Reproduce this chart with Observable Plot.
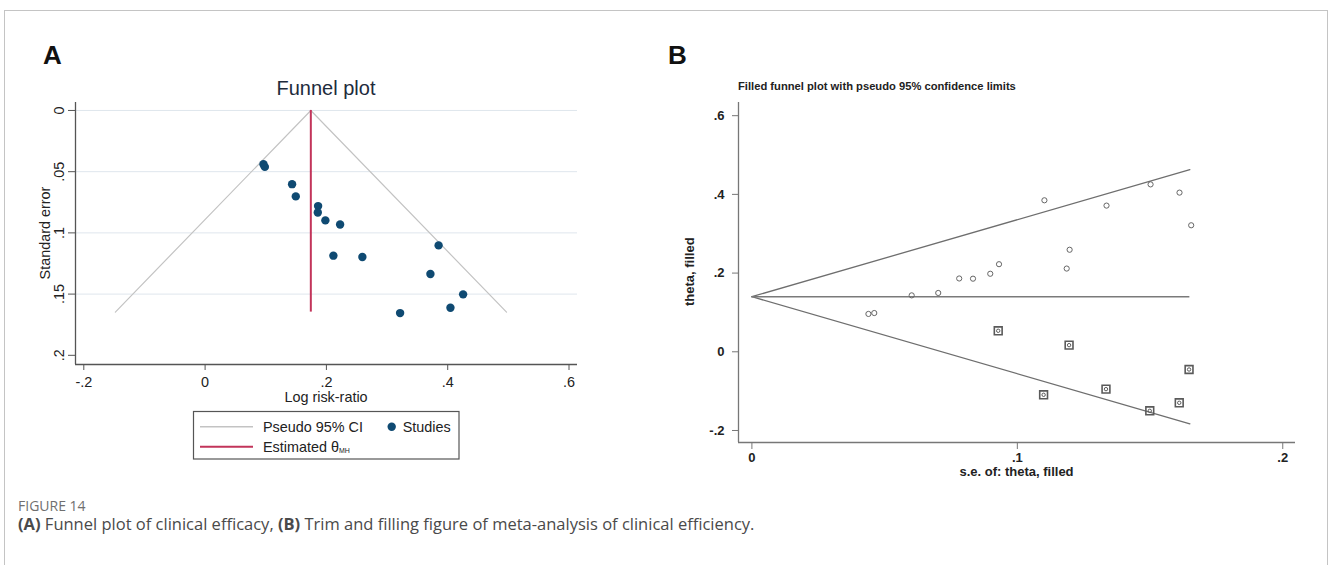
<!DOCTYPE html>
<html>
<head>
<meta charset="utf-8">
<script src="https://cdn.jsdelivr.net/npm/d3@7"></script>
<script src="https://cdn.jsdelivr.net/npm/@observablehq/plot@0.6"></script>
<style>
html, body { margin: 0; padding: 0; background: #fff; }
body { width: 1328px; height: 565px; position: relative; overflow: hidden; font-family: "Liberation Sans", Arial, sans-serif; }
.abs { position: absolute; }
#frame { left: 4px; top: 10px; width: 1324px; height: 600px; border: 1px solid #c4c4c4; border-bottom: none; box-sizing: border-box; }
#panelA { left: 20px; top: 70px; }
#panelB { left: 640px; top: 70px; }
#overlay { left: 0; top: 0; pointer-events: none; }
</style>
</head>
<body>
<div id="frame" class="abs"></div>
<div id="panelA" class="abs"></div>
<div id="panelB" class="abs"></div>
<svg id="overlay" class="abs" width="1328" height="565" xmlns="http://www.w3.org/2000/svg">
  <g font-family="Liberation Sans, Arial, sans-serif">
    <text x="43" y="64" font-size="26" font-weight="bold" fill="#111">A</text>
    <text x="668" y="63.5" font-size="26" font-weight="bold" fill="#111">B</text>
    <text x="326" y="95" font-size="20" text-anchor="middle" fill="#1e2b3c">Funnel plot</text>
    <text transform="translate(50,233) rotate(-90)" font-size="14.4" text-anchor="middle" fill="#222">Standard error</text>
    <text x="326" y="401.5" font-size="14.4" text-anchor="middle" fill="#222">Log risk-ratio</text>
    <text x="738" y="90" font-size="11.2" font-weight="bold" fill="#222">Filled funnel plot with pseudo 95% confidence limits</text>
    <text transform="translate(694,271.7) rotate(-90)" font-size="13" font-weight="bold" text-anchor="middle" fill="#222">theta, filled</text>
    <text x="1016.5" y="475.5" font-size="13" font-weight="bold" text-anchor="middle" fill="#222">s.e. of: theta, filled</text>
    <!-- legend of panel A -->
    <rect x="193.5" y="411.5" width="265.5" height="47.5" fill="#fff" stroke="#555" stroke-width="1.2"/>
    <line x1="200" y1="426.7" x2="253" y2="426.7" stroke="#c3c3c3" stroke-width="1.4"/>
    <text x="263" y="431.8" font-size="14.4" fill="#222">Pseudo 95% CI</text>
    <circle cx="391.7" cy="426.7" r="4.2" fill="#0f4a72"/>
    <text x="402.7" y="431.8" font-size="14.4" fill="#222">Studies</text>
    <line x1="200" y1="446.7" x2="253" y2="446.7" stroke="#c2345a" stroke-width="2"/>
    <text x="263" y="451.8" font-size="14.4" fill="#222">Estimated θ<tspan font-size="7" dy="1">MH</tspan></text>
    <!-- caption -->
    <text x="18" y="510.5" font-family="Open Sans, Noto Sans, sans-serif" font-size="14" fill="#6f6f6f">FIGURE 14</text>
    <text x="18" y="530" font-family="Open Sans, Noto Sans, sans-serif" font-size="16.5" fill="#4a4a4a"><tspan font-weight="bold">(A)</tspan> Funnel plot of clinical efficacy, <tspan font-weight="bold">(B)</tspan> Trim and filling figure of meta-analysis of clinical efficiency.</text>
  </g>
</svg>
<script>
// ---- data ----
const studyLogRR = [0.0962, 0.0985, 0.1434, 0.1495, 0.1863, 0.1858, 0.1983, 0.2226, 0.3850, 0.2115, 0.2593, 0.3715, 0.4254, 0.4045, 0.3215];
const studySE    = [0.0439, 0.0461, 0.0602, 0.0702, 0.0781, 0.0833, 0.0898, 0.0931, 0.1102, 0.1186, 0.1197, 0.1336, 0.1502, 0.1611, 0.1655];
const filledSE    = [0.0928, 0.1195, 0.1647, 0.1099, 0.1334, 0.1499, 0.1610];
const filledTheta = [0.0534, 0.0169, -0.0450, -0.1093, -0.0949, -0.1500, -0.1296];
const thetaMH = 0.1743;
const funnelASE    = [0.1647, 0, 0.1647];
const funnelALogRR = [-0.148, 0.1743, 0.497];
const thetaFilled  = 0.14;
const funnelBSE    = [0, 0.165];
const funnelBUpper = [0.14, 0.463];
const funnelBLower = [0.14, -0.183];
const ticksAX = [-0.2, 0, 0.2, 0.4, 0.6];
const ticksAY = [0, 0.05, 0.1, 0.15, 0.2];
const gridAY  = [0, 0.05, 0.1, 0.15];
const ticksBX = [0, 0.1, 0.2];
const ticksBY = [-0.2, 0, 0.2, 0.4, 0.6];
const domainAX = [-0.2137, 0.614];
const domainAY = [-0.0065, 0.2075];
const domainBX = [-0.00505, 0.2048];
const domainBY = [-0.2305, 0.6335];

// ---- tables ----
const fmt = d => d === 0 ? "0" : String(d).replace(/^(-?)0\./, "$1.");
const studies = studyLogRR.map((v, i) => ({logRR: v, se: studySE[i]}));
const filled = filledSE.map((s, i) => ({se: s, theta: filledTheta[i]}));
const funnelA = funnelASE.map((s, i) => ({se: s, logRR: funnelALogRR[i]}));
const upperB = funnelBSE.map((s, i) => ({se: s, theta: funnelBUpper[i]}));
const lowerB = funnelBSE.map((s, i) => ({se: s, theta: funnelBLower[i]}));
const font = "Liberation Sans, Arial, sans-serif";

const plotA = Plot.plot({
  width: 580, height: 340,
  marginLeft: 55, marginRight: 23, marginTop: 32, marginBottom: 46,
  style: {fontFamily: font, fontSize: "14.4px", color: "#222", background: "transparent", overflow: "visible"},
  x: {domain: domainAX},
  y: {domain: domainAY, reverse: true},
  marks: [
    Plot.gridY(gridAY, {stroke: "#dfe6ed", strokeOpacity: 1, strokeWidth: 1}),
    Plot.line(funnelA, {x: "logRR", y: "se", stroke: "#c3c3c3", strokeWidth: 1.2}),
    Plot.ruleX([thetaMH], {y1: 0, y2: funnelASE[0], stroke: "#c2345a", strokeWidth: 2}),
    Plot.dot(studies, {x: "logRR", y: "se", r: 4.2, fill: "#0f4a72"}),
    Plot.ruleX([domainAX[0]], {stroke: "#555", strokeWidth: 1.3}),
    Plot.ruleY([domainAY[1]], {stroke: "#555", strokeWidth: 1.3}),
    Plot.axisX({ticks: ticksAX, tickFormat: fmt, tickSize: 6, tickPadding: 6, label: null, stroke: "#555"}),
    Plot.axisY({ticks: ticksAY, tickFormat: fmt, tickSize: 7, tickPadding: 5, tickRotate: -90, label: null, stroke: "#555"})
  ]
});
document.getElementById("panelA").appendChild(plotA);

const plotB = Plot.plot({
  width: 670, height: 420,
  marginLeft: 98, marginRight: 15, marginTop: 32, marginBottom: 48,
  style: {fontFamily: font, fontSize: "13px", fontWeight: "bold", color: "#222", background: "transparent", overflow: "visible"},
  x: {domain: domainBX},
  y: {domain: domainBY},
  marks: [
    Plot.line(upperB, {x: "se", y: "theta", stroke: "#6e6e6e", strokeWidth: 1.3}),
    Plot.line(lowerB, {x: "se", y: "theta", stroke: "#6e6e6e", strokeWidth: 1.3}),
    Plot.ruleY([thetaFilled], {x1: funnelBSE[0], x2: funnelBSE[1], stroke: "#7a7a7a", strokeWidth: 1.6}),
    Plot.dot(studies, {x: "se", y: "logRR", r: 2.6, stroke: "#666", strokeWidth: 1, fill: "none"}),
    Plot.dot(filled, {x: "se", y: "theta", symbol: "square", r: 4.4, stroke: "#5a5a5a", strokeWidth: 1.6, fill: "none"}),
    Plot.dot(filled, {x: "se", y: "theta", r: 1.7, stroke: "#5a5a5a", strokeWidth: 1, fill: "none"}),
    Plot.ruleX([domainBX[0]], {stroke: "#777", strokeWidth: 1.3}),
    Plot.ruleY([domainBY[0]], {stroke: "#777", strokeWidth: 1.3}),
    Plot.axisX({ticks: ticksBX, tickFormat: fmt, tickSize: 7, tickPadding: 3, label: null, stroke: "#777"}),
    Plot.axisY({ticks: ticksBY, tickFormat: fmt, tickSize: 6, tickPadding: 8, label: null, stroke: "#777"})
  ]
});
document.getElementById("panelB").appendChild(plotB);
</script>
</body>
</html>
